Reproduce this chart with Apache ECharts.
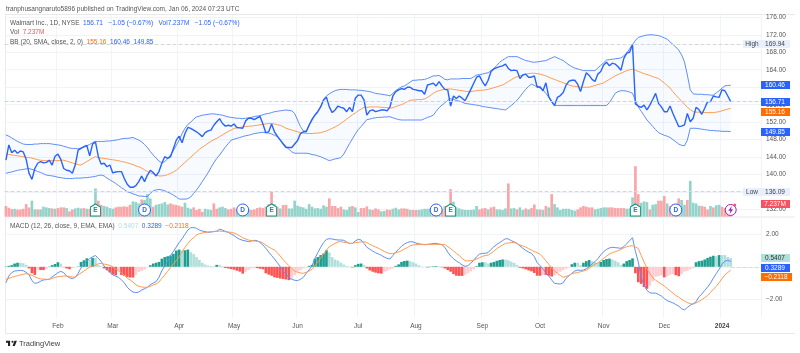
<!DOCTYPE html>
<html>
<head>
<meta charset="utf-8">
<style>
html, body { margin: 0; padding: 0; background: #fff; }
#main { width: 800px; height: 353px; }
</style>
<script src="https://cdn.jsdelivr.net/npm/echarts@6/dist/echarts.min.js"></script>
</head>
<body>
<div id="main"></div>
<script>
// daily closes, Jan 5 2023 to Jan 5 2024
var closes = [143.3,146.8,145.0,145.6,144.9,145.4,145.2,143.5,140.3,138.9,
141.4,142.6,143.0,142.7,142.8,143.3,142.2,144.2,144.7,143.5,
141.4,141.0,140.9,140.3,142.2,145.6,146.0,146.4,146.7,144.3,
147.0,147.5,144.1,142.4,142.6,141.8,142.2,140.4,140.6,140.7,
140.7,139.1,137.8,137.1,137.1,137.5,138.4,139.7,138.4,139.9,
141.0,140.5,139.7,140.7,142.6,144.1,143.7,144.1,146.0,147.9,
148.8,147.3,149.4,150.8,150.6,150.2,149.8,149.3,148.7,149.6,
150.0,150.2,151.3,152.1,152.8,151.7,151.1,151.3,151.1,151.6,
150.8,150.7,150.6,152.3,152.9,152.9,152.6,153.0,153.3,151.6,
149.6,149.8,151.6,149.8,148.8,147.9,147.0,146.2,146.2,146.2,
147.0,147.8,149.4,149.8,149.8,151.3,152.6,153.6,154.4,155.5,
157.1,157.7,155.5,154.2,154.8,155.7,155.4,155.2,154.4,155.4,
154.4,157.5,158.2,158.2,157.1,153.6,154.6,154.8,154.4,154.6,
154.8,154.8,154.6,155.5,158.0,159.0,159.4,159.7,159.5,160.0,
160.0,159.5,159.4,159.2,159.2,158.4,160.5,160.7,160.9,160.3,
161.3,160.3,159.5,159.4,155.7,158.0,157.4,158.0,157.5,156.9,
158.2,159.5,160.9,162.3,162.6,161.3,160.3,161.6,163.6,164.2,
164.5,164.7,164.9,165.3,164.3,163.8,163.9,163.8,162.0,162.8,
163.0,162.3,162.3,162.6,160.0,160.1,159.2,161.0,157.8,156.7,
155.8,157.7,158.1,158.8,160.5,161.4,161.6,161.6,160.7,159.0,
161.3,163.3,162.7,161.8,161.3,163.0,163.6,165.1,165.7,164.9,
165.5,165.3,164.7,163.9,166.6,167.8,168.0,169.8,156.2,155.7,
155.4,155.9,154.8,155.9,157.2,158.6,156.3,155.5,154.4,154.4,
155.7,154.0,152.5,151.0,151.1,151.4,154.0,152.1,152.9,155.4,
154.9,153.8,155.2,156.7,156.7,158.0,157.8,157.7,159.4,159.2,
158.0,156.71]

var bbUpper = [149.1,148.8,148.4,148.0,147.6,147.3,147.0,146.9,146.9,146.9,
147.0,147.0,147.1,147.1,147.1,147.1,147.0,146.9,146.8,146.7,
146.5,146.3,146.1,146.0,146.0,145.9,146.1,146.3,146.6,146.9,
147.3,147.6,147.6,147.6,147.6,147.7,147.7,147.8,147.9,148.0,
148.2,148.3,148.3,148.4,148.5,148.2,147.9,147.5,146.9,146.2,
145.3,144.5,143.8,143.1,142.7,143.0,143.6,144.5,145.5,146.7,
147.9,149.4,150.6,151.5,152.0,152.7,153.2,153.4,153.6,153.7,
153.8,153.9,153.9,153.8,153.7,153.6,153.4,153.2,153.1,153.0,
152.9,152.9,152.8,152.9,153.0,153.1,153.3,153.4,153.5,153.7,
153.9,154.0,154.2,154.4,154.5,154.6,154.7,154.8,154.7,154.6,
154.0,152.5,151.0,150.0,150.0,151.4,152.7,153.7,154.5,155.6,
157.2,158.0,158.5,158.9,159.2,159.4,159.5,159.5,159.5,159.4,
159.4,159.4,159.3,159.3,159.2,159.1,159.0,158.8,158.6,158.5,
158.4,158.3,158.2,158.0,158.6,159.2,159.7,160.1,160.3,160.7,
161.2,161.6,161.6,161.7,161.7,161.8,162.0,162.3,162.6,162.6,
162.7,162.3,161.8,161.7,161.9,161.9,161.9,161.9,162.0,162.0,
162.0,162.0,162.4,162.8,162.9,163.0,163.2,163.3,163.8,164.3,
165.0,165.7,166.2,166.6,167.0,167.0,167.0,167.0,166.7,166.4,
166.1,166.0,165.8,165.7,165.8,165.9,166.0,166.1,166.4,166.7,
167.0,166.7,166.4,166.1,165.6,165.1,164.7,164.4,164.2,164.0,
163.8,163.8,163.8,163.8,163.8,164.4,165.0,165.6,166.2,166.3,
166.4,166.5,166.6,166.7,167.2,167.8,168.8,169.8,170.7,171.4,
171.6,171.8,171.95,172.0,172.0,171.9,171.8,171.6,171.3,171.0,
170.4,169.8,169.2,168.5,167.4,165.8,162.8,159.4,158.5,158.4,
158.4,158.4,158.3,158.3,158.2,158.2,158.7,159.2,159.8,160.3,
160.4,160.46]

var bbLower = [140.3,140.5,140.6,140.8,141.0,141.1,141.2,141.3,141.4,141.2,
141.0,140.7,140.5,140.2,139.9,139.8,139.7,139.6,139.4,139.3,
139.2,139.1,139.1,139.1,139.2,139.2,139.2,139.3,139.3,139.4,
139.5,139.6,139.8,139.9,139.7,139.2,138.8,138.4,138.0,137.5,
137.0,136.6,136.1,135.9,135.6,135.4,135.1,135.1,135.0,135.0,
135.7,136.3,136.5,136.6,136.5,136.3,136.0,135.7,135.3,134.9,
134.4,134.4,134.4,134.5,134.9,135.7,136.5,137.4,138.4,139.4,
140.4,141.6,142.7,143.7,144.5,145.4,146.3,147.1,147.9,148.1,
148.3,148.5,148.7,148.9,149.0,149.2,149.4,149.5,149.6,149.7,
149.6,149.5,149.3,149.0,148.7,148.0,147.2,146.4,145.8,145.2,
144.9,144.9,144.9,144.9,144.9,144.8,144.6,144.5,144.3,144.1,
143.8,143.5,143.2,143.4,143.6,143.7,143.9,144.7,145.9,147.1,
148.2,149.3,150.3,151.0,151.8,152.6,152.7,152.9,153.0,153.1,
153.1,153.2,153.2,153.25,153.0,152.8,152.6,152.5,152.5,152.5,
152.5,152.5,152.5,152.5,152.5,152.8,153.1,153.3,153.6,154.5,
155.3,155.9,156.4,157.0,157.4,157.2,157.0,156.8,156.6,156.3,
156.2,156.1,156.0,155.9,155.8,155.6,155.5,155.4,155.3,155.2,
155.1,155.0,154.9,154.8,155.3,155.8,156.4,157.0,157.8,158.7,
159.5,160.2,160.7,160.4,160.1,159.8,159.4,158.6,157.7,156.7,
155.8,155.8,155.8,155.8,155.8,155.8,155.8,155.8,155.8,155.8,
155.8,155.8,155.8,155.8,155.8,155.8,155.8,155.8,155.8,156.5,
157.5,158.6,159.0,159.2,159.2,159.1,158.9,158.6,157.0,155.5,
154.5,153.5,152.5,151.8,151.0,150.3,149.6,149.3,149.0,148.8,
148.5,148.0,147.5,147.0,146.7,146.6,147.9,150.6,150.6,150.6,
150.5,150.4,150.3,150.2,150.1,150.1,150.0,150.0,149.9,149.9,
149.9,149.85]

var bbBasis = [144.7,144.6,144.5,144.4,144.3,144.2,144.1,144.0,143.9,143.8,
143.6,143.4,143.3,143.2,143.2,143.2,143.2,143.2,143.2,143.3,
143.3,143.1,142.9,142.7,142.5,142.3,142.2,142.6,143.0,143.4,
143.8,144.1,143.9,143.8,143.7,143.6,143.5,143.4,143.3,143.2,
143.0,142.9,142.7,142.5,142.3,142.0,141.8,141.5,141.1,140.7,
140.4,140.2,139.9,139.7,139.7,139.8,140.0,140.3,140.6,141.0,
141.6,142.2,142.8,143.4,144.0,144.6,145.2,145.8,146.3,146.7,
147.2,147.6,148.0,148.3,148.7,149.1,149.5,149.9,150.2,150.6,
150.7,150.8,150.9,151.0,151.1,151.1,151.2,151.3,151.4,151.5,
151.6,151.7,151.7,151.6,151.4,151.3,151.0,150.6,150.4,150.2,
150.0,149.8,149.6,149.5,149.4,149.4,149.4,149.5,149.5,149.6,
149.8,150.0,150.3,150.6,150.9,151.3,151.7,152.2,152.7,153.2,
153.7,154.1,154.6,155.0,155.4,155.4,155.5,155.5,155.5,155.5,
155.4,155.4,155.3,155.2,155.3,155.6,155.8,156.0,156.3,156.7,
157.0,157.1,157.1,157.2,157.2,157.3,157.7,158.1,158.6,159.0,
159.2,159.4,159.5,159.6,159.6,159.5,159.4,159.3,159.2,159.1,
159.0,159.0,159.1,159.2,159.3,159.3,159.4,159.5,159.7,159.9,
160.1,160.3,160.5,160.9,161.3,161.7,162.1,162.4,162.6,162.8,
163.0,163.1,163.2,163.2,163.1,163.0,162.8,162.6,162.3,162.0,
161.8,161.5,161.3,161.0,160.8,160.5,160.3,160.2,160.1,160.0,
160.0,160.0,160.0,160.2,160.4,160.6,160.8,161.0,161.4,161.8,
162.2,162.6,162.9,163.2,163.5,163.8,164.0,164.1,163.9,163.6,
163.4,163.1,162.9,162.7,162.4,162.2,162.0,161.5,161.0,160.4,
159.8,159.0,158.2,157.5,156.8,156.1,155.4,154.9,154.4,154.3,
154.3,154.3,154.2,154.2,154.2,154.2,154.3,154.4,154.6,154.8,
155.0,155.16]

// volume in millions, plus the direction of each bar
var volumes = [6.2,5.2,4.4,4.6,4.1,4.2,4.6,7.3,5.4,9.3,
4.2,4.2,4.2,5.8,5.4,5.0,4.8,4.6,5.0,5.4,
5.4,5.0,3.1,4.2,4.8,5.2,4.8,5.0,4.6,4.6,
5.0,16.4,9.3,6.9,6.2,5.8,5.0,4.6,5.4,5.8,
5.8,6.0,5.8,6.9,8.9,8.5,7.7,10.0,9.7,13.1,
10.6,5.8,6.9,7.3,7.7,8.5,7.1,7.7,7.1,6.8,
6.4,5.8,8.1,5.2,4.6,5.4,3.9,4.6,2.9,4.6,
4.2,3.9,7.7,4.6,5.4,5.8,5.0,4.2,4.6,5.4,
4.4,3.9,4.6,3.9,4.4,3.9,4.2,5.0,5.4,5.0,
5.8,7.3,14.5,7.3,5.8,4.8,6.8,6.9,4.8,4.8,
9.3,6.4,5.8,5.4,4.6,7.3,5.8,4.8,5.0,4.6,
6.6,5.8,10.6,6.2,6.2,5.0,5.8,4.2,3.9,5.8,
6.2,5.4,2.7,5.0,5.0,6.0,4.2,3.9,4.8,4.2,
3.1,3.3,4.2,3.9,4.6,5.2,4.2,4.8,4.8,4.6,
3.9,3.9,3.9,3.9,4.2,4.6,4.6,4.8,3.9,4.2,
3.9,4.2,6.2,5.8,16.0,8.7,5.4,4.8,4.2,3.9,
3.9,3.9,4.1,6.2,4.2,4.8,5.0,4.2,5.4,5.8,
4.2,4.2,3.9,4.8,19.3,4.8,5.0,4.2,5.4,3.9,
4.8,4.2,5.0,7.1,4.2,4.2,3.9,6.2,5.4,13.1,
7.3,5.4,3.9,4.6,4.6,4.6,3.9,3.5,4.2,5.4,
6.2,5.8,5.4,5.4,4.2,4.6,5.0,5.4,5.4,5.4,
5.4,5.0,5.0,5.0,5.0,4.6,4.8,11.2,29.3,13.1,
8.1,8.9,8.5,4.2,6.9,7.3,9.3,9.3,12.0,7.7,
6.2,7.3,6.8,10.6,9.7,6.9,9.7,20.8,8.1,7.7,
6.4,6.2,5.8,4.2,6.2,5.4,6.6,6.9,5.8,5.0,
4.6,7.237]
var volumeDirs = ('dddudddddu' + 'uduuuududd' + 'dudduuudud' + 'uudduuuudd' + 'dddduuuduu' +
  'uduuuuuddd' + 'dduuuddddu' + 'uudduuuddd' + 'uuuuuddddd' + 'dddududduu' +
  'uuuuuuuuuu' + 'uuddddduuu' + 'duuddduddd' + 'uudduuuddd' + 'udduuuuudu' +
  'udddduuuuu' + 'uuuudddudd' + 'uuuuduuduu' + 'duddududud' + 'uuuuuuuudd' +
  'dddduuuuud' + 'ddddduuudd' + 'uuuduudddu' + 'dduduuduuu' + 'uddduduudddd').split('')

var macdLine = [-.98,-.57,-.36,-.26,-.24,-.22,-.24,-.34,-.48,-.85,
-1.02,-.98,-.89,-.81,-.79,-.77,-.61,-.5,-.36,-.28,
-.36,-.57,-.67,-.73,-.65,-.4,-.07,.17,.34,.5,
.62,.69,.52,.32,.05,-.16,-.34,-.5,-.57,-.65,
-.81,-.98,-1.26,-1.43,-1.55,-1.59,-1.55,-1.43,-1.35,-1.26,
-1.1,-1.0,-.91,-.65,-.24,.05,.36,.69,.95,1.22,
1.49,1.73,2.0,2.26,2.41,2.41,2.37,2.26,2.2,2.16,
2.12,2.14,2.16,2.2,2.31,2.26,2.18,2.12,2.02,1.92,
1.79,1.69,1.63,1.59,1.55,1.59,1.63,1.61,1.49,1.34,
1.14,.91,.69,.48,.25,.01,-.26,-.44,-.67,-.77,
-.83,-.85,-.77,-.65,-.4,-.18,.05,.52,.87,1.2,
1.49,1.69,1.73,1.71,1.67,1.65,1.65,1.63,1.53,1.44,
1.44,1.59,1.69,1.65,1.44,1.2,1.09,.97,.87,.79,
.71,.6,.52,.48,.69,.89,1.09,1.26,1.4,1.49,
1.55,1.53,1.46,1.42,1.38,1.36,1.38,1.4,1.44,1.44,
1.4,1.36,1.2,.91,.66,.5,.36,.25,.11,.03,
.07,.23,.4,.62,.78,.83,.83,.87,1.07,1.24,
1.38,1.49,1.61,1.73,1.71,1.61,1.53,1.44,1.28,1.14,
1.01,.91,.83,.62,.25,.07,-.14,-.36,-.57,-.81,
-1.02,-1.04,-1.06,-.98,-.71,-.55,-.4,-.26,-.2,-.22,
-.2,-.12,.01,.17,.32,.5,.73,.93,1.07,1.16,
1.2,1.18,1.16,1.14,1.24,1.42,1.61,1.79,.95,.3,
-.65,-1.1,-1.45,-1.6,-1.62,-1.62,-1.7,-1.8,-1.95,-2.08,
-2.15,-2.22,-2.32,-2.42,-2.58,-2.65,-2.5,-2.36,-2.28,-2.15,
-1.85,-1.68,-1.45,-1.25,-1.0,-.7,-.42,-.15,.15,.35,
.4,.3289]

var macdSignal = [-.77,-.71,-.65,-.59,-.55,-.5,-.46,-.42,-.46,-.53,
-.61,-.69,-.75,-.75,-.77,-.77,-.71,-.65,-.61,-.59,
-.57,-.57,-.59,-.63,-.63,-.5,-.38,-.26,-.14,-.01,
.03,.09,.19,.21,.17,.13,.09,-.01,-.12,-.24,
-.36,-.53,-.69,-.81,-.94,-1.1,-1.2,-1.24,-1.26,-1.26,
-1.2,-1.12,-1.06,-.94,-.71,-.5,-.28,-.05,.17,.38,
.62,.91,1.2,1.44,1.65,1.79,1.96,2.04,2.08,2.12,
2.14,2.16,2.18,2.18,2.2,2.18,2.16,2.14,2.12,2.08,
2.0,1.9,1.79,1.71,1.65,1.61,1.59,1.57,1.55,1.46,
1.34,1.22,1.12,1.03,.87,.66,.44,.25,.07,-.11,
-.26,-.34,-.38,-.4,-.34,-.26,-.16,.05,.3,.54,
.79,1.03,1.24,1.34,1.44,1.53,1.55,1.51,1.49,1.44,
1.44,1.49,1.51,1.53,1.55,1.49,1.38,1.3,1.22,1.14,
1.05,.95,.87,.81,.81,.87,.91,.99,1.1,1.18,
1.3,1.34,1.36,1.38,1.38,1.38,1.38,1.38,1.38,1.38,
1.38,1.38,1.38,1.24,1.12,.97,.83,.69,.52,.38,
.36,.38,.41,.48,.56,.64,.69,.72,.83,.97,
1.12,1.24,1.34,1.44,1.46,1.49,1.49,1.44,1.34,1.28,
1.22,1.12,1.03,.93,.87,.77,.58,.37,.15,-.07,
-.26,-.4,-.53,-.65,-.59,-.53,-.42,-.38,-.36,-.3,
-.26,-.2,-.09,.05,.15,.25,.37,.52,.66,.78,
.87,.93,.99,1.07,1.16,1.24,1.28,1.3,1.22,1.13,
.7,.3,-.1,-.42,-.68,-.82,-.95,-1.07,-1.18,-1.33,
-1.47,-1.62,-1.76,-1.87,-2.0,-2.1,-2.2,-2.27,-2.29,-2.22,
-2.13,-2.02,-1.9,-1.76,-1.58,-1.38,-1.2,-.98,-.72,-.5,
-.35,-.2118]

var macdHist = [.02,.06,.1,.2,.25,.25,.22,.12,-.1,-.4,
-.5,-.15,-.2,-.2,-.13,.02,.1,.17,.28,.2,
-.02,-.1,-.15,-.08,-.03,.02,.3,.4,.52,.42,
.55,.55,.12,.04,-.1,-.22,-.35,-.48,-.52,-.2,
-.5,-.55,-.62,-.66,-.66,-.5,-.32,-.25,-.17,-.03,
.1,.2,.25,.3,.5,.6,.65,.7,.8,1.0,
1.06,1.0,1.02,1.06,.9,.78,.6,.42,.25,.14,
.08,.05,.04,.12,.12,-.02,-.07,-.1,-.14,-.18,
-.24,-.3,-.42,-.3,-.2,-.1,-.08,-.08,-.12,-.15,
-.4,-.48,-.55,-.65,-.68,-.72,-.75,-.78,-.82,-.72,
-.52,-.3,-.2,-.1,-.05,.06,.12,.5,.6,.72,
.82,1.02,.88,.6,.45,.38,.25,.14,.05,.03,
-.04,.1,.18,.2,.12,-.1,-.22,-.3,-.36,-.4,
-.42,-.3,-.25,-.16,-.1,.06,.15,.3,.36,.38,
.34,.28,.2,.1,.03,.02,-.04,.02,.03,.04,
.03,-.03,-.1,-.2,-.3,-.45,-.55,-.56,-.56,-.5,
-.4,-.28,-.15,.04,.25,.28,.28,.2,.25,.3,
.37,.42,.45,.45,.4,.32,.24,.12,-.06,-.1,
-.15,-.22,-.28,-.38,-.55,-.55,-.5,-.5,-.55,-.6,
-.52,-.38,-.3,-.2,-.12,-.03,.16,.25,.25,.1,
.25,.35,.42,.35,.3,.25,.3,.42,.48,.5,
.45,.38,.28,.12,.2,.35,.42,.52,-.4,-.95,
-1.05,-1.25,-1.35,-1.15,-.9,-.62,-.58,-.52,-.65,-.6,
-.5,-.45,-.52,-.58,-.45,-.3,-.25,-.16,-.08,.28,
.35,.38,.45,.55,.62,.68,.65,.72,.72,.72,
.6,.5407]

var earningsBars = [31, 92, 154, 218]
var dividendBars = [48, 82, 149, 232]

// trading days of the period, weekends and market holidays left out
var holidays = ['2023-01-16','2023-02-20','2023-04-07','2023-05-29','2023-06-19','2023-07-04','2023-09-04','2023-11-23','2023-12-25','2024-01-01']
var monthNames = ['Jan','Feb','Mar','Apr','May','Jun','Jul','Aug','Sep','Oct','Nov','Dec']
var categories = []
var tickLabels = {}
var day = new Date(Date.UTC(2023, 0, 5))
var lastMonth = 0
while (categories.length < closes.length) {
    var key = day.toISOString().slice(0, 10)
    if (day.getUTCDay() % 6 !== 0 && holidays.indexOf(key) < 0) {
        if (day.getUTCMonth() !== lastMonth) {
            lastMonth = day.getUTCMonth()
            tickLabels[categories.length] = lastMonth === 0 ? String(day.getUTCFullYear()) : monthNames[lastMonth]
        }
        categories.push(key)
    }
    day = new Date(day.getTime() + 86400000)
}
// empty room on the right of the last bar
for (var e = 0; e < 10; e++) categories.push('+' + e)

var bandWidth = bbUpper.map(function (v, i) { return v - bbLower[i] })
var volumeData = volumes.map(function (v, i) {
    return { value: v, itemStyle: { color: volumeDirs[i] === 'u' ? '#93d3ca' : '#f9a6a8' } }
})
var histData = macdHist.map(function (v, i) {
    var rising = i === 0 || v > macdHist[i - 1]
    var color = v >= 0 ? (rising ? '#1f9e8f' : '#b2dfdb') : (rising ? '#ffcdd2' : '#ff5252')
    return { value: v, itemStyle: { color: color } }
})

var font = '"Liberation Sans", Arial, sans-serif'
var gridLine = '#f0f3fa'
var textSize = 6.5

function tagSeries (name, xi, yi, tags) {
    return {
        name: name,
        type: 'custom',
        xAxisIndex: xi,
        yAxisIndex: yi,
        clip: false,
        silent: true,
        z: 20,
        encode: { x: 0, y: 1 },
        data: tags.map(function (t) { return [0, t.y] }),
        renderItem: function (params, api) {
            var rect = params.coordSys
            var x = rect.x + rect.width
            var y = Math.round(api.coord([0, api.value(1)])[1])
            var d = tags[params.dataIndex]
            var w = d.width || 29
            var children = []
            if (d.prefix) {
                children.push({ type: 'rect', shape: { x: x - 18, y: y - 4, width: 18, height: 8 }, style: { fill: d.bg } })
                children.push({ type: 'text', style: { x: x - 9, y: y, text: d.prefix, fill: d.fg, font: textSize + 'px ' + font, align: 'center', verticalAlign: 'middle' } })
            }
            children.push({ type: 'rect', shape: { x: x, y: y - 4, width: w, height: 8 }, style: { fill: d.bg } })
            children.push({ type: 'text', style: { x: x + w / 2 - 0.5, y: y, text: d.text, fill: d.fg, font: textSize + 'px ' + font, align: 'center', verticalAlign: 'middle' } })
            return { type: 'group', children: children }
        }
    }
}

function markerSeries (bars, symbol, color, letter, size) {
    return {
        type: 'scatter',
        xAxisIndex: 2,
        yAxisIndex: 2,
        z: 10,
        silent: true,
        symbol: symbol,
        symbolSize: size,
        itemStyle: { color: '#fff', borderColor: color, borderWidth: 1, opacity: 1 },
        label: { show: true, position: 'inside', formatter: letter, color: color, fontSize: textSize, fontWeight: 'bold', fontFamily: font },
        data: bars.map(function (b) { return [b, 3.9] })
    }
}

function legendRow (top, text, rich) {
    return { left: 10, top: top, padding: 0, text: text, textStyle: { fontSize: textSize, fontWeight: 'normal', fontFamily: font, rich: rich } }
}

var hiddenX = function (i) {
    return { type: 'category', gridIndex: i, data: categories, show: false }
}

var grey = { color: '#555', fontSize: textSize, fontFamily: font }
var blue = { color: '#2962ff', fontSize: textSize, fontFamily: font }
var orange = { color: '#ff6d00', fontSize: textSize, fontFamily: font }
var red = { color: '#f7525f', fontSize: textSize, fontFamily: font }
var teal = { color: '#b2dfdb', fontSize: textSize, fontFamily: font }

var myChart = echarts.init(document.getElementById('main'))
var option = {
    animation: false,
    backgroundColor: '#fff',
    textStyle: { fontFamily: font },
    title: [
        { left: 6, top: 5.5, padding: 0, text: 'tranphusangnaruto5896 published on TradingView.com, Jan 06, 2024 07:23 UTC', textStyle: { fontSize: textSize, fontWeight: 'normal', color: '#555', fontFamily: font } },
        legendRow(20, '{g|Walmart Inc., 1D, NYSE}  {b|156.71   −1.05 (−0.67%)   Vol7.237M   −1.05 (−0.67%)}', { g: grey, b: blue }),
        legendRow(29, '{g|Vol}  {r|7.237M}', { g: grey, r: red }),
        legendRow(38.5, '{g|BB (20, SMA, close, 2, 0)}  {o|155.16}  {b|160.46  149.85}', { g: grey, o: orange, b: blue }),
        legendRow(222.5, '{g|MACD (12, 26, close, 9, EMA, EMA)}  {t|0.5407}  {b|0.3289}  {o|−0.2118}', { g: grey, t: teal, b: blue, o: orange }),
        { left: 19, top: 339.5, padding: 0, text: 'TradingView', textStyle: { fontSize: 7.5, fontWeight: 'normal', color: '#444', fontFamily: font } }
    ],
    grid: [
        { left: 4.5, right: 39, top: 15, height: 303 },     // frame with month ticks
        { left: 4.5, right: 39, top: 17.3, height: 192.3 }, // price, 176 down to 132
        { left: 4.5, right: 39, top: 15, height: 201.7 },   // volume overlay
        { left: 4.5, right: 39, top: 234.3, height: 65 }    // macd, 2 down to -2
    ],
    xAxis: [
        {
            type: 'category', gridIndex: 0, data: categories,
            axisLine: { show: false }, axisTick: { show: false },
            axisLabel: {
                margin: 5, fontSize: textSize, color: '#555', hideOverlap: false,
                interval: function (i) { return tickLabels[i] !== undefined },
                formatter: function (v, i) {
                    var t = tickLabels[i]
                    return t === '2024' ? '{y|2024}' : t
                },
                rich: { y: { fontSize: textSize, fontWeight: 'bold', color: '#444' } }
            },
            splitLine: { show: true, lineStyle: { color: gridLine, width: 1 }, interval: function (i) { return tickLabels[i] !== undefined } }
        },
        hiddenX(1), hiddenX(2), hiddenX(3)
    ],
    yAxis: [
        { type: 'value', gridIndex: 0, show: false, min: 0, max: 1 },
        {
            type: 'value', gridIndex: 1, position: 'right', min: 132, max: 176, interval: 4,
            axisLine: { show: false }, axisTick: { show: false },
            axisLabel: { margin: 5, fontSize: textSize, color: '#555', formatter: function (v) { return v.toFixed(2) } },
            splitLine: { lineStyle: { color: gridLine, width: 1 } }
        },
        { type: 'value', gridIndex: 2, show: false, min: 0, max: 117 },
        {
            type: 'value', gridIndex: 3, position: 'right', min: -2, max: 2, interval: 2,
            axisLine: { show: false }, axisTick: { show: false },
            axisLabel: { margin: 5, fontSize: textSize, color: '#555', formatter: function (v) { return v === 0 ? '' : v === -2 ? '−2.00' : v.toFixed(2) } },
            splitLine: { lineStyle: { color: gridLine, width: 1 } }
        }
    ],
    graphic: [
        { type: 'line', silent: true, z: -1, shape: { x1: 5, y1: 14.5, x2: 795, y2: 14.5 }, style: { stroke: '#e8e9ec', lineWidth: 1 } },
        { type: 'line', silent: true, z: -1, shape: { x1: 5, y1: 217, x2: 795, y2: 217 }, style: { stroke: '#e8e9ec', lineWidth: 1 } },
        { type: 'line', silent: true, z: -1, shape: { x1: 5, y1: 333.5, x2: 795, y2: 333.5 }, style: { stroke: '#e8e9ec', lineWidth: 1 } },
        { type: 'line', silent: true, z: -1, shape: { x1: 5.5, y1: 14, x2: 5.5, y2: 333 }, style: { stroke: '#e8e9ec', lineWidth: 1 } },
        // TradingView mark
        { type: 'polygon', silent: true, shape: { points: [[10.1, 340.7], [6, 340.7], [6, 342.8], [8, 342.8], [8, 346], [10.1, 346]] }, style: { fill: '#222' } },
        { type: 'polygon', silent: true, shape: { points: [[14.8, 346], [12.5, 346], [14.5, 340.7], [16.9, 340.7]] }, style: { fill: '#222' } },
        { type: 'circle', silent: true, shape: { cx: 12.5, cy: 341.8, r: 1.05 }, style: { fill: '#222' } }
    ],
    series: [
        { name: 'Vol', type: 'bar', xAxisIndex: 2, yAxisIndex: 2, barWidth: '92%', data: volumeData, silent: true, z: 1 },
        { name: 'bb base', type: 'line', xAxisIndex: 1, yAxisIndex: 1, stack: 'bb', symbol: 'none', lineStyle: { width: 0 }, data: bbLower, silent: true, z: 2 },
        { name: 'bb fill', type: 'line', xAxisIndex: 1, yAxisIndex: 1, stack: 'bb', symbol: 'none', lineStyle: { width: 0 }, areaStyle: { color: 'rgba(33,150,243,0.05)' }, data: bandWidth, silent: true, z: 2 },
        { name: 'BB upper', type: 'line', xAxisIndex: 1, yAxisIndex: 1, symbol: 'none', lineStyle: { color: '#5f8ef5', width: 1 }, data: bbUpper, silent: true, z: 3 },
        { name: 'BB lower', type: 'line', xAxisIndex: 1, yAxisIndex: 1, symbol: 'none', lineStyle: { color: '#5f8ef5', width: 1 }, data: bbLower, silent: true, z: 3 },
        { name: 'BB basis', type: 'line', xAxisIndex: 1, yAxisIndex: 1, symbol: 'none', lineStyle: { color: '#ff9b50', width: 1 }, data: bbBasis, silent: true, z: 3 },
        {
            name: 'Close', type: 'line', xAxisIndex: 1, yAxisIndex: 1, symbol: 'none', lineStyle: { color: '#2962ff', width: 1.4 }, data: closes, silent: true, z: 4,
            markLine: {
                silent: true, symbol: 'none', label: { show: false }, animation: false,
                data: [
                    { yAxis: 156.71, lineStyle: { color: '#c3d3fb', type: 'dashed', width: 1 } },
                    { yAxis: 169.94, lineStyle: { color: '#d6d7db', type: 'dashed', width: 1 } },
                    { yAxis: 136.09, lineStyle: { color: '#d6d7db', type: 'dashed', width: 1 } }
                ]
            }
        },
        { name: 'Hist', type: 'bar', xAxisIndex: 3, yAxisIndex: 3, barWidth: '92%', data: histData, silent: true, z: 2,
          markLine: {
              silent: true, symbol: 'none', label: { show: false }, animation: false,
              lineStyle: { color: '#d9dbe0', type: 'dashed', width: 1 },
              data: [[{ coord: [251, 0] }, { coord: [261, 0] }]]
          }
        },
        { name: 'MACD', type: 'line', xAxisIndex: 3, yAxisIndex: 3, symbol: 'none', clip: false, lineStyle: { color: '#5f8ef5', width: 1 }, data: macdLine, silent: true, z: 3 },
        { name: 'Signal', type: 'line', xAxisIndex: 3, yAxisIndex: 3, symbol: 'none', clip: false, lineStyle: { color: '#ff9b50', width: 1 }, data: macdSignal, silent: true, z: 3 },
        markerSeries(earningsBars, 'path://M0 3L5 0L10 3L10 12L0 12Z', '#089981', 'E', [10, 12]),
        markerSeries(dividendBars, 'circle', '#2962ff', 'D', 12),
        {
            type: 'scatter', xAxisIndex: 2, yAxisIndex: 2, z: 10, silent: true,
            symbol: 'circle', symbolSize: 11,
            itemStyle: { color: '#fff', borderColor: '#9c27b0', borderWidth: 1, opacity: 1 },
            data: [[251, 3.9]]
        },
        {
            type: 'scatter', xAxisIndex: 2, yAxisIndex: 2, z: 11, silent: true,
            symbol: 'path://M6 0L1 6L4 6L3 10L8 4L5 4Z', symbolSize: [5, 8],
            itemStyle: { color: '#9c27b0', opacity: 1 },
            data: [[251, 3.9]]
        },
        {
            type: 'scatter', xAxisIndex: 2, yAxisIndex: 2, z: 12, silent: true,
            symbol: 'circle', symbolSize: 3, symbolOffset: [4, -5],
            itemStyle: { color: '#f7525f', opacity: 1 },
            data: [[251, 3.9]]
        },
        // tags that would touch sit pushed apart on the axis, as in the picture
        tagSeries('price tags', 1, 1, [
            { y: 169.94, text: '169.94', bg: '#e8f0fd', fg: '#444', prefix: 'High' },
            { y: 160.46, text: '160.46', bg: '#2962ff', fg: '#fff' },
            { y: 156.71, text: '156.71', bg: '#2962ff', fg: '#fff' },
            { y: 154.4, text: '155.16', bg: '#ff6d00', fg: '#fff' },
            { y: 149.85, text: '149.85', bg: '#2962ff', fg: '#fff' },
            { y: 136.09, text: '136.09', bg: '#e8f0fd', fg: '#444', prefix: 'Low' }
        ]),
        tagSeries('volume tag', 2, 2, [
            { y: 7.237, text: '7.237M', bg: '#f7525f', fg: '#fff' }
        ]),
        tagSeries('macd tags', 3, 3, [
            { y: 0.5407, text: '0.5407', bg: '#b2dfdb', fg: '#333' },
            { y: -0.055, text: '0.3289', bg: '#2962ff', fg: '#fff' },
            { y: -0.646, text: '−0.2118', bg: '#ff6d00', fg: '#fff', width: 31 }
        ])
    ]
}
myChart.setOption(option)
</script>
</body>
</html>
